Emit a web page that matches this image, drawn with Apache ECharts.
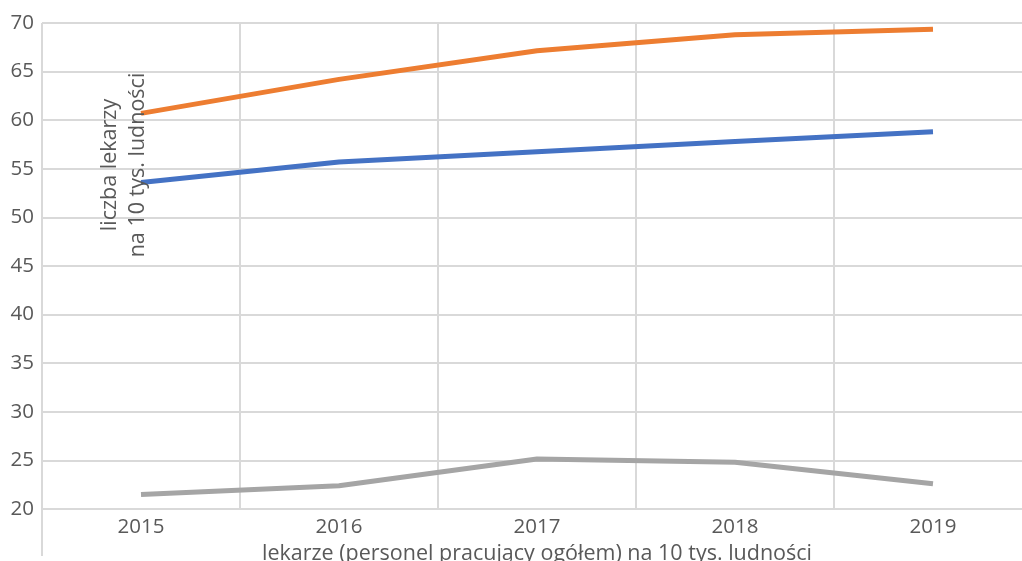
<!DOCTYPE html>
<html>
<head>
<meta charset="utf-8">
<script src="https://cdn.jsdelivr.net/npm/echarts@6/dist/echarts.min.js"></script>
<style>
  html, body { margin: 0; padding: 0; background: #fff; }
  #chart { width: 1022px; height: 561px; }
</style>
</head>
<body>
<div id="chart"></div>
<script>
// data
const years = ['2015', '2016', '2017', '2018', '2019']
const seriesOrange = [60.7, 64.2, 67.15, 68.8, 69.35]
const seriesBlue = [53.6, 55.7, 56.75, 57.8, 58.8]
const seriesGray = [21.5, 22.4, 25.15, 24.8, 22.6]

const textColor = '#595959'
const gridColor = '#d9d9d9'
const font = 'Open Sans'

const chart = echarts.init(document.getElementById('chart'))

function line (name, data, color) {
  return {
    name: name,
    type: 'line',
    data: data,
    symbol: 'none',
    smooth: false,
    lineStyle: { color: color, width: 5, cap: 'butt' },
    itemStyle: { color: color }
  }
}

const option = {
  animation: false,
  textStyle: { fontFamily: font },
  grid: {
    left: 42,
    top: 23,
    width: 990,
    height: 486,
    containLabel: false,
    outerBoundsMode: 'none'
  },
  xAxis: {
    type: 'category',
    data: years,
    boundaryGap: true,
    axisLine: { show: true, lineStyle: { color: gridColor, width: 2 } },
    axisTick: { show: false },
    splitLine: { show: true, interval: 0, lineStyle: { color: gridColor, width: 2 } },
    axisLabel: { color: textColor, fontSize: 20.5, fontFamily: font, margin: 8 },
    name: 'lekarze (personel pracujący ogółem) na 10 tys. ludności',
    nameLocation: 'middle',
    nameGap: 33,
    nameTextStyle: { color: textColor, fontSize: 21.5, fontFamily: font }
  },
  yAxis: {
    type: 'value',
    min: 20,
    max: 70,
    interval: 5,
    axisLine: { show: false },
    axisTick: { show: false },
    splitLine: { show: true, lineStyle: { color: gridColor, width: 2 } },
    axisLabel: { color: textColor, fontSize: 20.5, fontFamily: font, margin: 8 }
  },
  graphic: [
    {
      type: 'line',
      shape: { x1: 42, y1: 509, x2: 42, y2: 556 },
      style: { stroke: gridColor, lineWidth: 2 },
      silent: true
    },
    {
      type: 'text',
      x: 124,
      y: 165,
      rotation: Math.PI / 2,
      style: {
        text: 'liczba lekarzy\nna 10 tys. ludności',
        fill: textColor,
        font: '21.5px "Open Sans"',
        align: 'center',
        verticalAlign: 'middle',
        lineHeight: 28
      },
      z: 10
    }
  ],
  series: [
    line('orange', seriesOrange, '#ed7d31'),
    line('blue', seriesBlue, '#4472c4'),
    line('gray', seriesGray, '#a5a5a5')
  ]
}

option && chart.setOption(option)
</script>
</body>
</html>
